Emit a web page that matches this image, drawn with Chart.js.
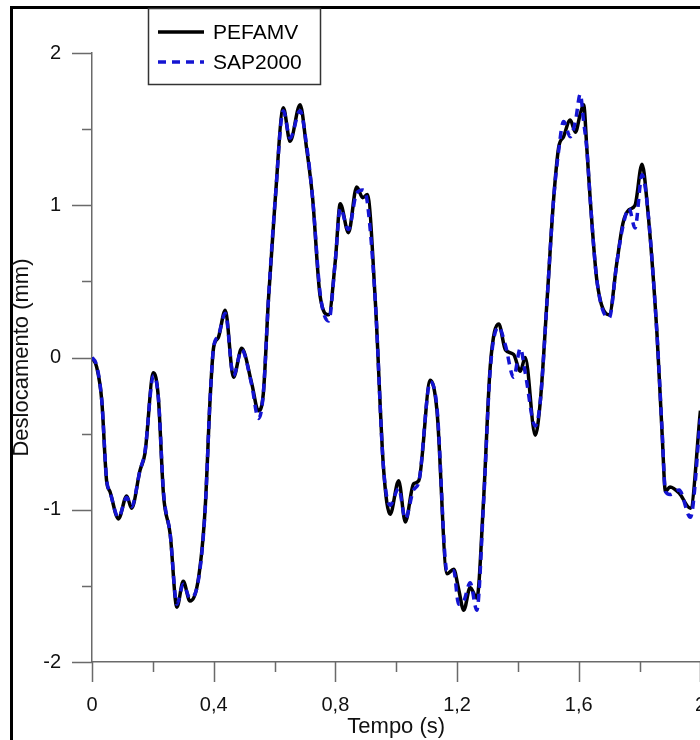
<!DOCTYPE html>
<html>
<head>
<meta charset="utf-8">
<script src="https://cdn.jsdelivr.net/npm/chart.js@4.4.1/dist/chart.umd.min.js"></script>
<style>
  html, body { margin: 0; padding: 0; background: #fff; width: 700px; height: 740px; overflow: hidden; }
  canvas { display: block; }
</style>
</head>
<body>
<canvas id="chart" width="737" height="740"></canvas>
<script>
// tempo (s)
const tempo = [
  0.000, 0.015, 0.032, 0.048, 0.059, 0.087, 0.114, 0.130, 0.158, 0.174,
  0.202, 0.218, 0.235, 0.257, 0.279, 0.300, 0.322, 0.350, 0.372, 0.388,
  0.400, 0.415, 0.438, 0.465, 0.492, 0.525, 0.547, 0.563, 0.580, 0.602,
  0.629, 0.651, 0.684, 0.705, 0.725, 0.750, 0.778, 0.800, 0.816, 0.843,
  0.870, 0.890, 0.905, 0.931, 0.958, 0.980, 1.008, 1.030, 1.057, 1.074,
  1.112, 1.134, 1.167, 1.189, 1.205, 1.222, 1.243, 1.265, 1.287, 1.309,
  1.337, 1.359, 1.386, 1.408, 1.424, 1.457, 1.474, 1.496, 1.517, 1.534,
  1.550, 1.572, 1.589, 1.605, 1.616, 1.627, 1.638, 1.660, 1.700, 1.725,
  1.745, 1.765, 1.785, 1.808, 1.824, 1.857, 1.874, 1.885, 1.900, 1.930,
  1.967, 2.000
];
// deslocamento (mm)
const pefamv = [
  0.00, -0.06, -0.28, -0.81, -0.88, -1.06, -0.91, -0.99, -0.74, -0.63,
  -0.10, -0.26, -0.90, -1.16, -1.64, -1.47, -1.60, -1.45, -0.99, -0.28,
  0.07, 0.13, 0.31, -0.13, 0.06, -0.17, -0.35, -0.24, 0.38, 1.03,
  1.64, 1.42, 1.66, 1.38, 1.05, 0.40, 0.28, 0.64, 1.01, 0.82,
  1.12, 1.05, 1.07, 0.38, -0.72, -1.03, -0.81, -1.08, -0.83, -0.81,
  -0.15, -0.35, -1.42, -1.39, -1.52, -1.66, -1.51, -1.58, -0.94, -0.06,
  0.22, 0.05, 0.02, -0.09, 0.00, -0.51, -0.28, 0.38, 1.03, 1.38,
  1.45, 1.56, 1.48, 1.60, 1.66, 1.36, 1.03, 0.50, 0.28, 0.62,
  0.88, 0.97, 1.00, 1.27, 1.03, 0.16, -0.50, -0.88, -0.85, -0.89,
  -0.99, -0.35
];
const sap2000 = [
  0.00, -0.05, -0.28, -0.80, -0.88, -1.05, -0.92, -0.98, -0.74, -0.62,
  -0.12, -0.26, -0.88, -1.16, -1.62, -1.49, -1.58, -1.46, -1.00, -0.28,
  0.07, 0.14, 0.29, -0.12, 0.05, -0.18, -0.40, -0.24, 0.38, 1.03,
  1.62, 1.44, 1.62, 1.40, 1.05, 0.42, 0.24, 0.64, 0.98, 0.84,
  1.08, 1.10, 1.02, 0.38, -0.72, -0.97, -0.86, -1.06, -0.87, -0.82,
  -0.16, -0.33, -1.40, -1.40, -1.62, -1.60, -1.48, -1.66, -0.96, -0.08,
  0.20, 0.08, -0.13, 0.06, -0.10, -0.45, -0.28, 0.38, 1.03, 1.36,
  1.55, 1.45, 1.55, 1.73, 1.55, 1.36, 1.03, 0.50, 0.26, 0.62,
  0.86, 0.98, 0.85, 1.20, 1.03, 0.16, -0.48, -0.88, -0.90, -0.87,
  -1.05, -0.40
];
const xTicksMajor = 0.4;
const yTicksMajor = 1;

const AXIS = '#6a6a6a';
const FONT = '"Liberation Sans", Arial, sans-serif';

const isMajor = (v, step) => Math.abs(v / step - Math.round(v / step)) < 1e-6;
const fmt = v => String(+v.toFixed(1)).replace('.', ',');

const frame = {
  id: 'frame',
  beforeDraw(chart) {
    const ctx = chart.ctx;
    ctx.save();
    ctx.strokeStyle = '#000';
    ctx.lineWidth = 3;
    ctx.beginPath();
    ctx.moveTo(11.5, 760); ctx.lineTo(11.5, 7.5); ctx.lineTo(760, 7.5);
    ctx.stroke();
    ctx.restore();
  }
};

// ticks drawn outward: long for major, short for minor
const axisTicks = {
  id: 'axisTicks',
  afterDraw(chart) {
    const { ctx, chartArea, scales: { x, y } } = chart;
    ctx.save();
    ctx.strokeStyle = AXIS;
    ctx.lineWidth = 1.5;
    ctx.beginPath();
    x.ticks.forEach(t => {
      const px = Math.round(x.getPixelForValue(t.value)) + 0.5;
      const len = isMajor(t.value, xTicksMajor) ? 20 : 10;
      ctx.moveTo(px, chartArea.bottom); ctx.lineTo(px, chartArea.bottom + len);
    });
    y.ticks.forEach(t => {
      const py = Math.round(y.getPixelForValue(t.value)) + 0.5;
      const len = isMajor(t.value, yTicksMajor) ? 20 : 10;
      ctx.moveTo(chartArea.left, py); ctx.lineTo(chartArea.left - len, py);
    });
    ctx.stroke();
    ctx.restore();
  }
};

const legendBox = {
  id: 'legendBox',
  afterDraw(chart) {
    const ctx = chart.ctx;
    ctx.save();
    ctx.strokeStyle = '#333';
    ctx.lineWidth = 1.5;
    ctx.strokeRect(148.5, 8.5, 172, 76);
    ctx.font = '21px ' + FONT;
    ctx.textBaseline = 'middle';
    ctx.fillStyle = '#000';
    chart.data.datasets.forEach((ds, i) => {
      const cy = 32 + i * 30;
      ctx.strokeStyle = ds.borderColor;
      ctx.lineWidth = ds.borderWidth;
      ctx.setLineDash(ds.borderDash || []);
      ctx.beginPath();
      ctx.moveTo(158, cy); ctx.lineTo(204, cy);
      ctx.stroke();
      ctx.setLineDash([]);
      ctx.fillText(ds.label, 213, cy + 1);
    });
    ctx.restore();
  }
};

new Chart(document.getElementById('chart'), {
  type: 'line',
  data: {
    datasets: [
      {
        label: 'PEFAMV',
        data: tempo.map((t, i) => ({ x: t, y: pefamv[i] })),
        borderColor: '#000',
        borderWidth: 3.5,
        pointRadius: 0,
        cubicInterpolationMode: 'monotone',
        order: 1
      },
      {
        label: 'SAP2000',
        data: tempo.map((t, i) => ({ x: t, y: sap2000[i] })),
        borderColor: '#1414d2',
        borderWidth: 3.5,
        borderDash: [8, 6],
        pointRadius: 0,
        cubicInterpolationMode: 'monotone',
        order: 0
      }
    ]
  },
  options: {
    responsive: false,
    animation: false,
    layout: { padding: { top: 53, right: 3, bottom: 0, left: 0 } },
    plugins: { legend: { display: false }, tooltip: { enabled: false } },
    scales: {
      x: {
        type: 'linear',
        min: 0, max: 2,
        border: { display: true, color: AXIS, width: 1.5 },
        grid: { drawOnChartArea: false, drawTicks: false },
        ticks: {
          stepSize: 0.2,
          autoSkip: false,
          maxRotation: 0,
          padding: 31,
          color: '#111',
          font: { size: 20, family: FONT },
          callback: v => isMajor(v, xTicksMajor) ? fmt(v) : ''
        },
        title: {
          display: true, text: 'Tempo (s)', color: '#111',
          font: { size: 22, family: FONT },
          padding: { top: 0, bottom: 0 }
        },
        afterFit: s => { s.height = 78; }
      },
      y: {
        min: -2, max: 2,
        border: { display: true, color: AXIS, width: 1.5 },
        grid: { drawOnChartArea: false, drawTicks: false },
        ticks: {
          stepSize: 0.5,
          autoSkip: false,
          padding: 31,
          color: '#111',
          font: { size: 20, family: FONT },
          callback: v => isMajor(v, yTicksMajor) ? String(v) : ''
        },
        title: {
          display: true, text: 'Deslocamento (mm)', color: '#111',
          font: { size: 22, family: FONT },
          padding: { top: 9, bottom: 0 }
        },
        afterFit: s => { s.width = 92; }
      }
    }
  },
  plugins: [frame, axisTicks, legendBox]
});
</script>
</body>
</html>
